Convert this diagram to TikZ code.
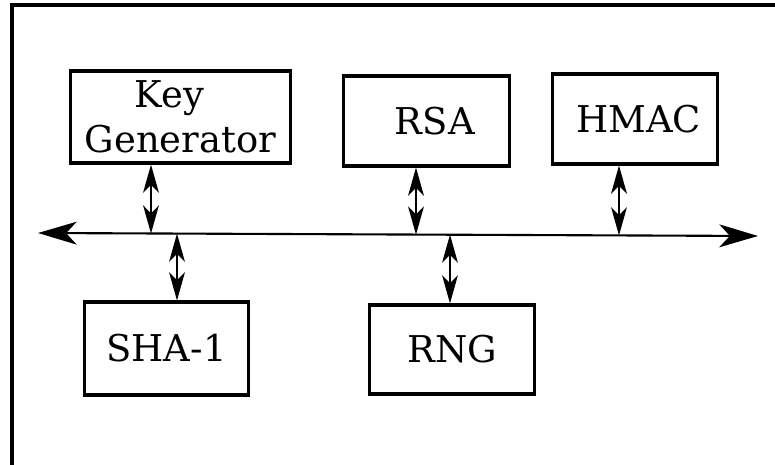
\documentclass[tikz,border=0pt]{standalone}
\usepackage{fontspec}
\setmainfont{DejaVu Serif}
\usetikzlibrary{arrows.meta}
\tikzset{
  block/.style={draw,line width=2pt,inner sep=0pt,align=center,
    font=\fontsize{21}{25.5}\selectfont},
  link/.style={line width=0.9pt,
    {Stealth[length=16pt,width=9pt,inset=4.5pt]}-{Stealth[length=16pt,width=9pt,inset=4.5pt]}},
  bus/.style={line width=1.2pt,
    {Stealth[length=22pt,width=13pt,inset=6pt]}-{Stealth[length=22pt,width=13pt,inset=6pt]}}
}
\begin{document}
\begin{tikzpicture}[x=0.02cm,y=-0.02cm]
  \useasboundingbox (0,0) rectangle (775,465);
  % outer frame
  \draw[line width=2.2pt] (12,465) -- (12,5) -- (775,5);
  % blocks
  \node[block,minimum width=125.3pt,minimum height=52.2pt] (keygen) at (180.5,117) {Key\hspace*{0.6em}\\Generator};
  \node[block,minimum width=94.7pt,minimum height=51pt] (rsa) at (426.5,121) {\hspace*{0.45em}RSA};
  \node[block,minimum width=94.1pt,minimum height=51pt] (hmac) at (635,119) {\hspace*{0.2em}HMAC};
  \node[block,minimum width=93.6pt,minimum height=52.7pt] (sha) at (166.5,348.5) {SHA-1};
  \node[block,minimum width=94.1pt,minimum height=50.5pt] (rng) at (452,349.5) {RNG};
  % bus
  \coordinate (busl) at (38,233);
  \coordinate (busr) at (758,236);
  \draw[bus] (busl) -- (busr);
  \coordinate (kgtap) at (151,233.5);
  \coordinate (shatap) at (177,233.6);
  \coordinate (rsatap) at (416,234.6);
  \coordinate (rngtap) at (450,234.7);
  \coordinate (hmactap) at (619,235.4);
  % links to the bus
  \draw[link] (kgtap |- keygen.south) -- (kgtap);
  \draw[link] (rsatap |- rsa.south) -- (rsatap);
  \draw[link] (hmactap |- hmac.south) -- (hmactap);
  \draw[link] (shatap |- sha.north) -- (shatap);
  \draw[link] (rngtap |- rng.north) -- (rngtap);
\end{tikzpicture}
\end{document}
